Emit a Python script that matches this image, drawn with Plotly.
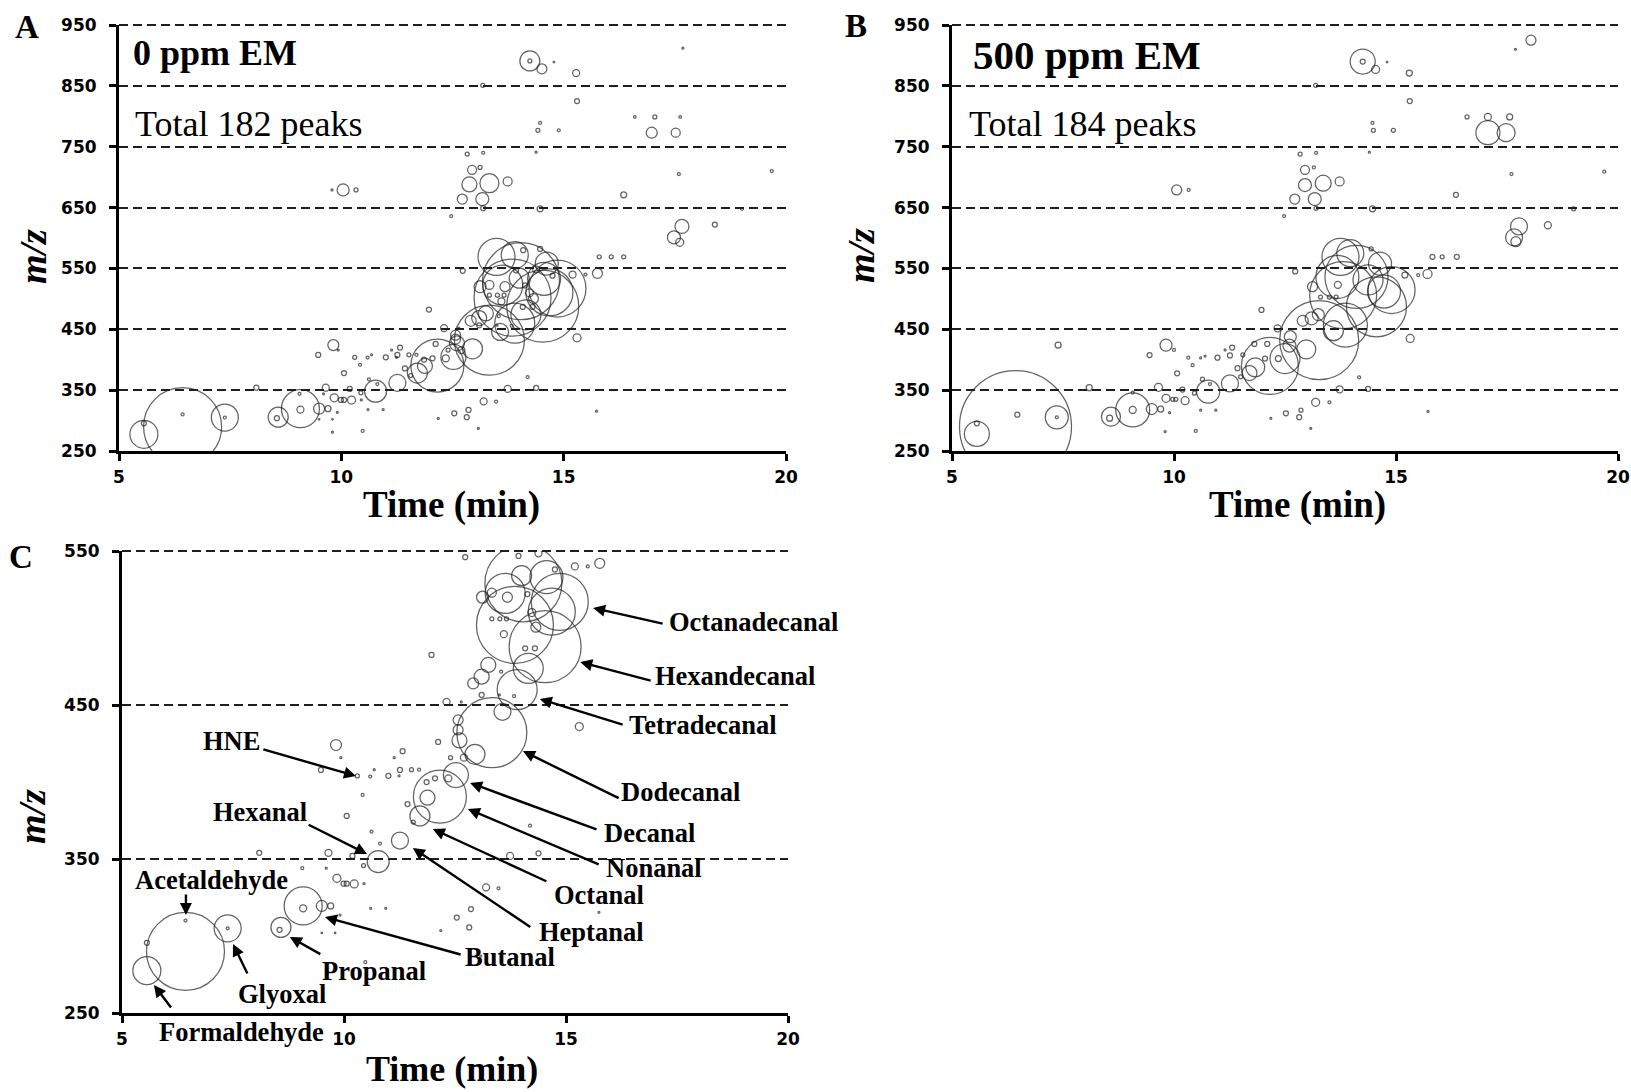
import plotly.graph_objects as go

W, H = 1631, 1092
SERIF = "Liberation Serif, Times New Roman, serif"
SANS = "DejaVu Sans, Arial, sans-serif"

# ---------------- data: 0 ppm EM (panels A and C) ----------------
time_0ppm = [
    14.24, 14.24, 14.51, 14.78, 15.28, 17.68, 13.18, 15.30, 14.47, 14.42, 14.89, 16.60, 17.05, 17.62,
    16.98, 17.52, 12.83, 13.19, 14.38, 12.94, 13.12, 12.88, 13.33, 13.74, 12.72, 13.17, 13.19, 14.47,
    12.47, 16.35, 17.59, 19.68, 19.01, 17.66, 17.48, 17.61, 18.40, 10.04, 9.79, 10.33,
    13.49, 13.90, 14.62, 14.47, 14.09, 15.80, 16.07, 16.35, 15.76, 15.20, 15.49, 12.73,
    5.56, 5.56, 6.43, 6.43, 7.38, 7.38, 8.09, 8.58, 8.55, 9.08, 9.08, 9.06, 9.50, 9.70, 9.91, 9.65,
    9.60, 9.84, 9.99, 10.06, 10.23, 10.45, 10.19, 10.44, 10.77, 10.81, 10.62, 11.26, 10.06, 11.43,
    10.60, 10.94, 9.50, 9.80, 10.48, 9.80, 13.08, 13.20, 13.48, 12.86, 12.54, 12.82, 12.18, 15.74,
    13.74, 14.38, 14.19, 11.71, 11.56, 12.16, 12.52, 11.88, 11.86, 12.05, 12.35, 11.69, 11.32, 11.26,
    13.33, 13.57, 12.95, 12.60, 12.57, 12.57, 12.12, 12.40, 12.70, 15.30, 13.90, 14.15, 13.25, 13.10,
    12.91, 12.31, 12.64, 13.10, 13.50, 13.83, 13.54, 14.08, 14.30, 14.53, 13.85, 13.60, 14.32, 14.23,
    13.33, 13.51, 13.66, 14.86, 14.68, 14.04, 13.63, 13.68, 13.33, 13.12, 14.13, 14.00, 14.56, 14.75,
    13.93, 14.38, 11.97, 9.82, 9.93, 9.48, 10.30, 10.59, 10.68, 11.00, 11.24, 11.13, 10.42, 11.52,
]
mz_0ppm = [
    891, 891, 878, 889, 871, 912, 851, 825, 789, 777, 777, 799, 799, 799,
    773, 773, 738, 740, 741, 712, 716, 688, 690, 693, 664, 664, 649, 648,
    636, 671, 705, 710, 648, 619, 601, 593, 622, 679, 679, 679,
    569, 572, 558, 582, 580, 569, 569, 569, 542, 540, 540, 546,
    277.5, 295.6, 290, 310, 305, 305, 354, 305.6, 304, 319.5, 318, 344, 319.5, 319.5, 313.6, 354,
    344, 337.5, 334, 334, 333.8, 334, 352, 345.7, 348.3, 360, 367.7, 362, 378, 385.7,
    318, 318, 302, 302, 283, 281, 287, 331.6, 331, 317.5, 312, 305.6, 303.5, 315.4,
    352, 353.7, 371.6, 378, 374, 390.5, 404.5, 389.8, 400, 402.4, 402.4, 408, 420, 407.8,
    432, 445.6, 418, 427, 433.8, 440.3, 426, 415.8, 415.8, 436, 460, 473.8, 476, 468.4,
    464, 452, 452, 456.5, 456.5, 455.8, 471.6, 486.8, 486.8, 487.9, 502, 496, 500.5, 510,
    506, 506, 506, 517, 510.6, 529, 522.5, 520, 523, 520, 522, 534, 533, 538,
    546.8, 548.5, 482.5, 424, 415.8, 407.8, 403.9, 403.5, 408, 404, 404, 415.8, 391.6, 408,
]
peak_0ppm = [
    20, 4, 10, 1.5, 7, 2, 4, 5, 3, 4, 3, 2.5, 4, 2.5,
    11, 9, 4, 3, 2, 9, 4, 15, 19, 9, 10, 13, 5, 6,
    3, 6, 3, 3, 3, 14, 13, 8, 5, 12, 2, 4,
    37, 27, 23, 5, 5, 4, 4, 4, 10, 7, 3, 5,
    28, 5, 78, 3, 27, 3, 5, 20, 5, 38, 7, 3, 11, 6, 2, 7,
    2, 8, 5, 5, 8, 2, 5, 4, 22, 3, 3, 17, 5, 5,
    2, 2, 1.5, 1.5, 3, 2, 2, 7, 3, 5, 5, 5, 2, 2,
    7, 5, 3, 20, 4, 53, 25, 15, 5, 5, 7, 3, 5, 5,
    70, 17, 20, 15, 10, 10, 5, 4, 7, 8, 40, 30, 15, 15,
    11, 7, 2, 5, 2, 3, 3, 5, 5, 72, 77, 7, 10, 8,
    4, 4, 4, 57, 47, 77, 40, 10, 9, 12, 5, 20, 33, 5,
    5, 7, 5, 11, 2, 5, 4, 3, 2, 5, 2, 2, 3, 4,
]

# ---------------- data: 500 ppm EM (panel B) ----------------
time_500ppm = [
    14.25, 14.25, 14.54, 14.80, 15.30, 18.04, 17.69, 13.19, 15.31, 14.47, 14.49, 14.94, 16.60, 17.07,
    17.07, 17.48, 17.56, 12.84, 13.20, 14.40, 12.95, 13.15, 12.95, 13.36, 13.73, 12.72, 13.17, 13.20,
    14.47, 12.48, 16.35, 17.60, 19.69, 19.00, 17.77, 17.66, 17.70, 18.42, 10.06, 10.33,
    13.75, 13.97, 14.64, 14.44, 15.82, 16.04, 16.37, 15.71, 15.20, 15.50, 12.73, 13.68, 14.11, 14.37,
    14.90, 14.73, 13.81, 14.56, 13.12, 13.69, 13.30, 13.50, 13.65, 13.86, 13.59, 12.90, 13.10, 13.25,
    11.97, 12.33, 15.32, 13.27, 12.98, 12.60, 12.62, 11.81, 12.16, 12.50, 11.83, 11.26,
    13.73, 14.37, 14.17, 13.19, 13.50, 12.52, 12.86, 12.82, 12.18, 13.08, 15.72,
    6.43, 5.56, 5.56, 6.47, 7.36, 7.36, 7.39, 8.09, 8.58, 8.55, 9.07, 9.07, 9.07, 9.50, 9.70, 9.65,
    9.82, 9.97, 10.04, 10.25, 10.19, 10.46, 10.77, 10.81, 10.64, 9.82, 10.00, 9.45, 10.07, 10.32,
    10.42, 10.60, 10.70, 10.98, 11.26, 11.31, 11.15, 11.43, 9.80, 9.90, 10.49, 10.60, 10.94, 11.50,
    11.70, 11.55, 12.10, 12.35, 12.05,
]
mz_500ppm = [
    890, 890, 877, 889, 871, 925, 910, 851, 825, 789, 777, 777, 799, 799,
    773, 773, 799, 738, 740, 741, 712, 716, 687, 690, 693, 664, 664, 649,
    648, 636, 671, 705, 709, 648, 619, 601, 594, 621, 679, 679,
    569, 575, 558, 582, 569, 569, 569, 541, 539, 539, 545, 536, 536, 531,
    514.5, 512, 506, 487, 520, 523, 503, 503, 503, 457, 447.7, 464, 468, 474,
    481.7, 451.5, 435, 432, 417, 423, 437.8, 426, 389.7, 402, 387.5, 361,
    351.4, 352, 371, 330, 330, 312, 317, 305.6, 303.7, 287, 315,
    290, 278, 295.5, 309.7, 305.3, 305.3, 424, 354, 306.4, 304, 317.4, 317.4, 346, 319, 319, 354.6,
    336.6, 335, 335, 332.6, 351, 345, 347.5, 360, 368, 424, 416, 407.7, 377.6, 403.3,
    391, 403, 406, 403.3, 407, 420, 416, 386, 282, 313, 283, 317, 317, 372,
    378, 408, 426, 402, 402,
]
peak_500ppm = [
    25, 5, 8, 1.5, 6, 10, 2, 4, 5, 3, 4, 4, 4, 7,
    24, 18, 6, 4, 3, 2, 9, 3, 13, 16, 9, 10, 13, 4,
    6, 3, 5, 3, 3, 4, 17, 17, 10, 7, 10, 3,
    37, 27, 23, 4, 5, 4, 5, 9, 6, 3, 5, 43, 63, 30,
    47, 33, 67, 60, 10, 7, 4, 4, 4, 44, 20, 11, 13, 12,
    5, 7, 8, 79, 19, 13, 12, 5, 57, 30, 19, 17,
    7, 5, 3, 8, 3, 5, 4, 5, 2, 2, 2,
    112, 25, 5, 5, 23, 3, 6, 6, 19, 6, 34, 7, 3, 11, 6, 8,
    8, 4, 4, 8, 5, 4, 23, 3, 4, 12, 3, 5, 5, 3,
    3, 2, 2, 5, 5, 5, 2, 5, 2, 2, 3, 2, 2, 4,
    15, 4, 5, 6, 5,
]

x_ticks = [5, 10, 15, 20]
y_ticks_ab = [250, 350, 450, 550, 650, 750, 850, 950]
y_ticks_c = [250, 350, 450, 550]

# ---------------- panel C labelled compounds ----------------
compound_names = ["Octanadecanal", "Hexandecanal", "Tetradecanal", "Dodecanal", "Decanal", "Nonanal",
                  "Octanal", "Heptanal", "Butanal", "Propanal", "Glyoxal", "Formaldehyde",
                  "Acetaldehyde", "Hexanal", "HNE"]
arrow_time = [15.61, 15.32, 14.41, 14.03, 12.84, 12.79, 12.00, 11.55, 9.57, 8.78, 7.50, 5.72, 6.44, 10.52, 10.27]
arrow_mz = [513.0, 477.9, 453.9, 420.1, 399.4, 382.5, 369.5, 357.1, 312.3, 299.4, 294.8, 268.2, 313.6, 353.2, 403.9]
tail_time = [17.21, 16.94, 16.31, 16.22, 15.72, 15.77, 14.59, 14.23, 12.66, 9.50, 7.84, 6.13, 6.44, 9.17, 8.15]
tail_mz = [502.6, 465.6, 437.0, 389.0, 368.8, 346.1, 335.1, 305.2, 287.7, 287.7, 274.7, 252.6, 327.9, 372.7, 421.4]

# label placement (pixel positions: left edge, vertical middle)
label_px = [(667, 622), (653, 676), (627, 725), (619, 792), (602, 833), (604, 868), (552, 895),
            (537, 932), (463, 957), (320, 971), (236, 994), (157, 1032), (133, 880), (211, 812), (201, 741)]

# subplot frames in pixels: (left, right, top, bottom)
frame_a = (119, 786, 25, 451)
frame_b = (952, 1618, 25, 451)
frame_c = (122, 788, 551, 1013)


def dom_x(f):
    return [f[0] / W, f[1] / W]


def dom_y(f):
    return [1 - f[3] / H, 1 - f[2] / H]


def bubbles(t, mz, s, xa, ya):
    return go.Scatter(
        x=t, y=mz, mode="markers", xaxis=xa, yaxis=ya,
        marker=dict(size=s, sizemode="diameter", sizeref=1, symbol="circle",
                    color="rgba(0,0,0,0)", line=dict(color="#222222", width=1.25)),
        hoverinfo="skip", showlegend=False, cliponaxis=True,
    )


fig = go.Figure()
fig.add_trace(bubbles(time_0ppm, mz_0ppm, peak_0ppm, "x", "y"))
fig.add_trace(bubbles(time_500ppm, mz_500ppm, peak_500ppm, "x2", "y2"))
fig.add_trace(bubbles(time_0ppm, mz_0ppm, peak_0ppm, "x3", "y3"))

tickfont = dict(family=SANS, size=17, color="black", weight="bold")
xbase = dict(range=[5, 20], tickvals=x_ticks, showline=True, linewidth=3, linecolor="black",
             ticks="outside", ticklen=7, tickwidth=3, tickcolor="black", showgrid=False,
             zeroline=False, tickfont=tickfont, ticklabelstandoff=2, fixedrange=True,
             automargin=False)


def ybase(ticks, gw):
    return dict(range=[ticks[0], ticks[-1]], tickvals=ticks, showline=True, linewidth=3,
                linecolor="black", ticks="outside", ticklen=7, tickwidth=3, tickcolor="black",
                showgrid=True, gridcolor="#1e1e1e", gridwidth=gw, griddash="9px,5px",
                zeroline=False, tickfont=tickfont, ticklabelstandoff=9, fixedrange=True,
                automargin=False)


fig.update_layout(
    width=W, height=H, autosize=False,
    margin=dict(l=0, r=0, t=0, b=0, pad=0),
    paper_bgcolor="white", plot_bgcolor="white",
    xaxis=dict(xbase, domain=dom_x(frame_a), anchor="y"),
    yaxis=dict(ybase(y_ticks_ab, 2), domain=dom_y(frame_a), anchor="x"),
    xaxis2=dict(xbase, domain=dom_x(frame_b), anchor="y2"),
    yaxis2=dict(ybase(y_ticks_ab, 2), domain=dom_y(frame_b), anchor="x2"),
    xaxis3=dict(xbase, domain=dom_x(frame_c), anchor="y3"),
    yaxis3=dict(ybase(y_ticks_c, 1.6), domain=dom_y(frame_c), anchor="x3"),
)

# top dashed line of each panel (the grid skips the range edge), unclipped in paper space
shapes = []
for f, w in ((frame_a, 2), (frame_b, 2), (frame_c, 1.8)):
    yy = 1 - f[2] / H
    shapes.append(dict(type="line", xref="paper", yref="paper", x0=f[0] / W, x1=f[1] / W, y0=yy, y1=yy,
                       line=dict(color="#1e1e1e", width=w, dash="9px,5px"), layer="above"))
fig.update_layout(shapes=shapes)

ann = []


def text_px(txt, x, y, size, xanchor="left", yanchor="middle", angle=0, bold=True):
    ann.append(dict(text=("<b>%s</b>" % txt) if bold else txt, x=x / W, y=1 - y / H,
                    xref="paper", yref="paper", xanchor=xanchor, yanchor=yanchor,
                    showarrow=False, textangle=angle,
                    font=dict(family=SERIF, size=size, color="black")))


# panel letters
text_px("A", 27, 27, 33, xanchor="center")
text_px("B", 856, 26, 33, xanchor="center")
text_px("C", 21, 557, 33, xanchor="center")
# panel headers
text_px("0 ppm EM", 131, 53, 36)
text_px("Total 182 peaks", 133, 124, 36, bold=False)
text_px("500 ppm EM", 971, 55, 41)
text_px("Total 184 peaks", 967, 124, 36, bold=False)
# axis titles
text_px("Time (min)", 452, 505, 37, xanchor="center")
text_px("Time (min)", 1297, 505, 37, xanchor="center")
text_px("Time (min)", 452, 1091, 36, xanchor="center", yanchor="bottom")
text_px("<i>m/z</i>", 33, 257, 38, xanchor="center", angle=-90)
text_px("<i>m/z</i>", 861, 256, 38, xanchor="center", angle=-90)
text_px("<i>m/z</i>", 32, 817, 38, xanchor="center", angle=-90)

# compound arrows and labels (panel C)
for name, hx, hy, tx, ty, (lx, ly) in zip(compound_names, arrow_time, arrow_mz, tail_time, tail_mz, label_px):
    ann.append(dict(text="", x=hx, y=hy, xref="x3", yref="y3", ax=tx, ay=ty, axref="x3", ayref="y3",
                    showarrow=True, arrowhead=2, arrowsize=1.0, arrowwidth=2.4, arrowcolor="black",
                    standoff=0, startstandoff=0))
    text_px(name, lx, ly, 26.5)

fig.update_layout(annotations=ann)
fig.write_html("out.html")
